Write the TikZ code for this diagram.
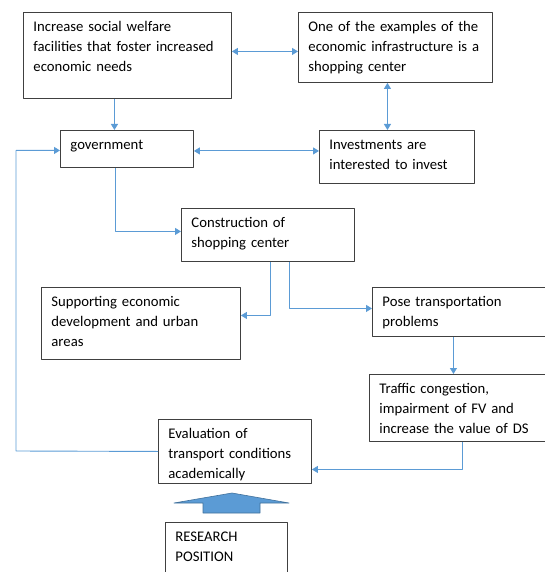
\documentclass[tikz,border=0pt]{standalone}
\usepackage{fontspec}
\setmainfont{Carlito}
\usetikzlibrary{arrows.meta}
\definecolor{linkblue}{RGB}{91,155,213}
\definecolor{boxgray}{RGB}{64,64,64}
\definecolor{blockedge}{RGB}{65,113,156}
\begin{document}
\begin{tikzpicture}[x=1pt, y=-1pt, line join=round,
	box/.style={draw=boxgray, line width=0.9pt, anchor=north west, align=left, inner xsep=10pt, inner ysep=5pt, text height=14pt, font=\fontsize{14.7}{20}\selectfont},
	link/.style={draw=linkblue, line width=0.9pt, -{Triangle[length=6pt, width=7pt]}},
	twoway/.style={link, {Triangle[length=6pt, width=7pt]}-{Triangle[length=6pt, width=7pt]}}]
	\useasboundingbox (0, 0) rectangle (545, 572);
	% Top row
	\node [box, text width=188pt, text depth=62pt] (welfare) at (23, 12) {Increase social welfare\\facilities that foster increased\\economic needs};
	\node [box, text width=174pt, text depth=46pt] (example) at (298, 12) {One of the examples of the\\economic infrastructure is a\\shopping center};
	% Second row
	\node [box, text width=113pt, text depth=13pt] (gov) at (60, 130) {government};
	\node [box, text width=135pt, text depth=29pt] (invest) at (319, 130) {Investments are\\interested to invest};
	% Middle
	\node [box, text width=153pt, text depth=29pt] (constr) at (181, 208) {Construction of\\shopping center};
	\node [box, text width=179pt, text depth=48pt] (support) at (41, 287) {Supporting economic\\development and urban\\areas};
	\node [box, text width=170pt, text depth=25pt] (pose) at (372, 287) {Pose transportation\\problems};
	\node [box, text width=170pt, text depth=43pt] (traffic) at (369, 374) {Traffic congestion,\\impairment of FV and\\increase the value of DS};
	% Bottom
	\node [box, text width=133pt, text depth=40pt] (eval) at (158, 419) {Evaluation of\\transport conditions\\academically};
	\node [box, text width=102pt, text depth=46pt] (research) at (165, 522) {RESEARCH\\POSITION};
	\coordinate (back) at (16, 451);
	% Two-way links
	\draw [twoway] ([yshift=4pt]welfare.east) -- ([yshift=-4pt]example.west);
	\draw [twoway] ([xshift=-8pt]example.south) -- ([xshift=-8pt]example.south |- invest.north);
	\draw [twoway] ([yshift=-2pt]gov.east) -- ([yshift=-2pt]gov.east -| invest.west);
	% One-way links
	\draw [link] ([xshift=-13pt]welfare.south) -- ([xshift=-13pt]welfare.south |- gov.north);
	\draw [link] ([xshift=-11.5pt]gov.south) |- ([yshift=3.5pt]constr.west);
	\draw [link] ([xshift=2.5pt]constr.south) |- ([yshift=8pt]support.east);
	\draw [link] ([xshift=21.5pt]constr.south) |- ([yshift=3.5pt]pose.west);
	\draw [link] ([xshift=-14pt]pose.south) -- ([xshift=-14pt]pose.south |- traffic.north);
	\draw [link] ([xshift=-2pt]traffic.south) |- ([yshift=-18pt]eval.east);
	\draw [link] (eval.west) -- (back) |- ([yshift=-1.5pt]gov.west);
	% Block arrow
	\filldraw [fill=linkblue, draw=blockedge, line width=0.6pt] (203, 513) -- (203, 503) -- (174, 503) -- (232, 493) -- (289, 503) -- (260, 503) -- (260, 513) -- cycle;
\end{tikzpicture}
\end{document}
